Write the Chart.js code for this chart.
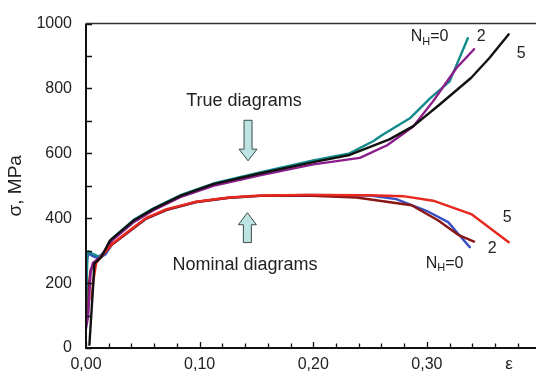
<!DOCTYPE html>
<html>
<head>
<meta charset="utf-8">
<script src="https://cdn.jsdelivr.net/npm/chart.js@4.4.0/dist/chart.umd.min.js"></script>
<style>
  html, body { margin: 0; padding: 0; background: #fff; }
  #wrap { width: 536px; height: 378px; }
</style>
</head>
<body>
<div id="wrap"><canvas id="c" width="536" height="378"></canvas></div>
<script>
// Strain (ε) and stress (σ, MPa) for true and nominal tensile diagrams, N_H = 0, 2, 5
const strainTrue0 = [0, 0.001, 0.002, 0.006, 0.011, 0.017, 0.0226, 0.042, 0.059, 0.083, 0.112, 0.153, 0.200, 0.232, 0.253, 0.260, 0.285, 0.303, 0.320, 0.336];
const stressTrue0 = [110, 285, 298, 290, 282, 295, 336, 395, 430, 471, 507, 541, 578, 600, 638, 655, 708, 770, 822, 955];

const strainTrue2 = [0, 0.002, 0.004, 0.006, 0.012, 0.0226, 0.042, 0.059, 0.083, 0.112, 0.153, 0.200, 0.241, 0.265, 0.288, 0.3055, 0.326, 0.3415];
const stressTrue2 = [60, 100, 230, 262, 278, 330, 388, 424, 465, 500, 532, 566, 586, 625, 683, 761, 863, 921];

const strainTrue5 = [0.003, 0.0064, 0.0073, 0.0138, 0.021, 0.028, 0.042, 0.059, 0.083, 0.112, 0.153, 0.200, 0.232, 0.267, 0.288, 0.311, 0.339, 0.355, 0.372];
const stressTrue5 = [10, 198, 260, 282, 331, 352, 393, 428, 469, 505, 538, 573, 595, 643, 684, 750, 833, 894, 967];

const strainNom0 = [0, 0.001, 0.002, 0.006, 0.011, 0.017, 0.0226, 0.042, 0.053, 0.071, 0.097, 0.126, 0.153, 0.194, 0.250, 0.273, 0.2996, 0.3187, 0.3275, 0.3377];
const stressNom0 = [90, 270, 292, 283, 276, 288, 318, 370, 399, 426, 450, 463, 469, 472, 470, 459, 423, 388, 352, 311];

const strainNom2 = [0, 0.002, 0.004, 0.007, 0.012, 0.0226, 0.042, 0.053, 0.071, 0.097, 0.126, 0.153, 0.194, 0.238, 0.2865, 0.310, 0.3275, 0.3415];
const stressNom2 = [70, 180, 240, 262, 276, 318, 370, 399, 426, 450, 463, 469, 470, 464, 440, 393, 349, 328];

const strainNom5 = [0.005, 0.0065, 0.009, 0.012, 0.0226, 0.042, 0.053, 0.071, 0.097, 0.126, 0.153, 0.194, 0.250, 0.279, 0.3055, 0.339, 0.372];
const stressNom5 = [150, 209, 262, 276, 320, 372, 401, 428, 451, 464, 470, 472, 471, 468, 454, 413, 326];

const xTickStep = 0.1;
const xMinorStep = 0.02;
const yTickStep = 200;
const yMinorStep = 100;

const FONT = "Arial, 'Liberation Sans', Helvetica, sans-serif";

function pts(xs, ys) {
  return xs.map((x, i) => ({ x: x, y: ys[i] }));
}

function series(label, xs, ys, color) {
  return {
    label: label,
    data: pts(xs, ys),
    borderColor: color,
    backgroundColor: color,
    borderWidth: 2.4,
    pointRadius: 0,
    tension: 0,
    fill: false,
    borderJoinStyle: 'round',
    borderCapStyle: 'round'
  };
}

// Axes frame, inward tick marks, arrows and curve labels
const decorations = {
  id: 'decorations',
  afterDatasetsDraw(chart) {
    const ctx = chart.ctx;
    const xs = chart.scales.x, ys = chart.scales.y;
    const a = chart.chartArea;
    const px = v => xs.getPixelForValue(v);
    const py = v => ys.getPixelForValue(v);
    ctx.save();

    // frame: left and bottom axes, thin top line
    ctx.strokeStyle = '#111';
    ctx.lineWidth = 2;
    ctx.beginPath();
    ctx.moveTo(a.left, a.top);
    ctx.lineTo(a.left, a.bottom);
    ctx.lineTo(chart.width, a.bottom);
    ctx.stroke();
    ctx.lineWidth = 1.5;
    ctx.strokeStyle = '#333';
    ctx.beginPath();
    ctx.moveTo(a.left, a.top);
    ctx.lineTo(chart.width, a.top);
    ctx.stroke();

    // tick marks pointing into the plot
    ctx.strokeStyle = '#111';
    ctx.lineWidth = 1.3;
    ctx.beginPath();
    for (let k = 0; k * xMinorStep <= xs.max + 1e-9; k++) {
      const v = k * xMinorStep;
      const x = Math.round(px(v)) + 0.5;
      const major = k % Math.round(xTickStep / xMinorStep) === 0;
      ctx.moveTo(x, a.bottom);
      ctx.lineTo(x, a.bottom - (major ? 6 : 4.5));
    }
    for (let k = 0; k * yMinorStep <= ys.max + 1e-9; k++) {
      const y = Math.round(py(k * yMinorStep)) + 0.5;
      ctx.moveTo(a.left, y);
      ctx.lineTo(a.left + 6, y);
    }
    ctx.stroke();

    // ε axis symbol
    ctx.fillStyle = '#222';
    ctx.font = '17px ' + FONT;
    ctx.textAlign = 'center';
    ctx.textBaseline = 'middle';
    ctx.fillText('ε', px(0.3722), a.bottom + 16);

    // captions
    ctx.font = '18px ' + FONT;
    ctx.fillText('True diagrams', px(0.139), py(761));
    ctx.fillText('Nominal diagrams', px(0.140), py(255));

    // block arrows
    function arrow(xc, tipY, headY, tailY) {
      const sw = 4, hw = 9;
      ctx.beginPath();
      ctx.moveTo(xc - sw, tailY);
      ctx.lineTo(xc - sw, headY);
      ctx.lineTo(xc - hw, headY);
      ctx.lineTo(xc, tipY);
      ctx.lineTo(xc + hw, headY);
      ctx.lineTo(xc + sw, headY);
      ctx.lineTo(xc + sw, tailY);
      ctx.closePath();
      ctx.fillStyle = '#bde3e3';
      ctx.fill();
      ctx.strokeStyle = '#3a4a4a';
      ctx.lineWidth = 1;
      ctx.stroke();
    }
    arrow(px(0.1426), py(577), py(613), py(702));
    arrow(px(0.1420), py(417), py(380), py(325));

    // curve labels N_H
    function nLabel(x, y, tail) {
      ctx.fillStyle = '#222';
      ctx.textAlign = 'left';
      ctx.textBaseline = 'alphabetic';
      ctx.font = '16px ' + FONT;
      ctx.fillText('N', x, y);
      let w = ctx.measureText('N').width;
      ctx.font = '11px ' + FONT;
      ctx.fillText('H', x + w, y + 3.5);
      w += ctx.measureText('H').width;
      ctx.font = '16px ' + FONT;
      ctx.fillText(tail, x + w, y);
    }
    function num(t, x, y) {
      ctx.fillStyle = '#222';
      ctx.textAlign = 'left';
      ctx.textBaseline = 'alphabetic';
      ctx.font = '16px ' + FONT;
      ctx.fillText(t, x, y);
    }
    nLabel(px(0.2858), py(945), '=0');
    num('2', px(0.3439), py(945));
    num('5', px(0.379), py(893));
    nLabel(px(0.299), py(248), '=0');
    num('2', px(0.3536), py(294));
    num('5', px(0.3668), py(387));

    ctx.restore();
  }
};

new Chart(document.getElementById('c'), {
  type: 'line',
  data: {
    datasets: [
      series('True, N_H=5', strainTrue5, stressTrue5, '#111111'),
      series('Nominal, N_H=5', strainNom5, stressNom5, '#e8281e'),
      series('True, N_H=2', strainTrue2, stressTrue2, '#8b1d8b'),
      series('True, N_H=0', strainTrue0, stressTrue0, '#128a8c'),
      series('Nominal, N_H=2', strainNom2, stressNom2, '#8b1616'),
      series('Nominal, N_H=0', strainNom0, stressNom0, '#3a4fbf')
    ]
  },
  options: {
    responsive: false,
    devicePixelRatio: 1,
    animation: false,
    events: [],
    layout: { padding: { top: 22, right: 0, left: 0, bottom: 0 } },
    plugins: {
      legend: { display: false },
      tooltip: { enabled: false },
      title: { display: false }
    },
    scales: {
      x: {
        type: 'linear',
        min: 0,
        max: 0.396,
        grid: { display: false, drawTicks: false },
        border: { display: false },
        ticks: {
          stepSize: xTickStep,
          includeBounds: false,
          autoSkip: false,
          maxRotation: 0,
          padding: 7,
          color: '#222',
          font: { family: FONT, size: 16 },
          callback: v => v.toFixed(2).replace('.', ',')
        },
        afterFit: s => { s.height = 30; }
      },
      y: {
        type: 'linear',
        min: 0,
        max: 1000,
        grid: { display: false, drawTicks: false },
        border: { display: false },
        ticks: {
          stepSize: yTickStep,
          padding: 14,
          color: '#222',
          font: { family: FONT, size: 16 },
          callback: v => String(v)
        },
        title: {
          display: true,
          text: 'σ, MPa',
          color: '#222',
          font: { family: FONT, size: 19 },
          padding: { top: 4, bottom: 0 }
        },
        afterFit: s => { s.width = 86; }
      }
    }
  },
  plugins: [decorations]
});
</script>
</body>
</html>
